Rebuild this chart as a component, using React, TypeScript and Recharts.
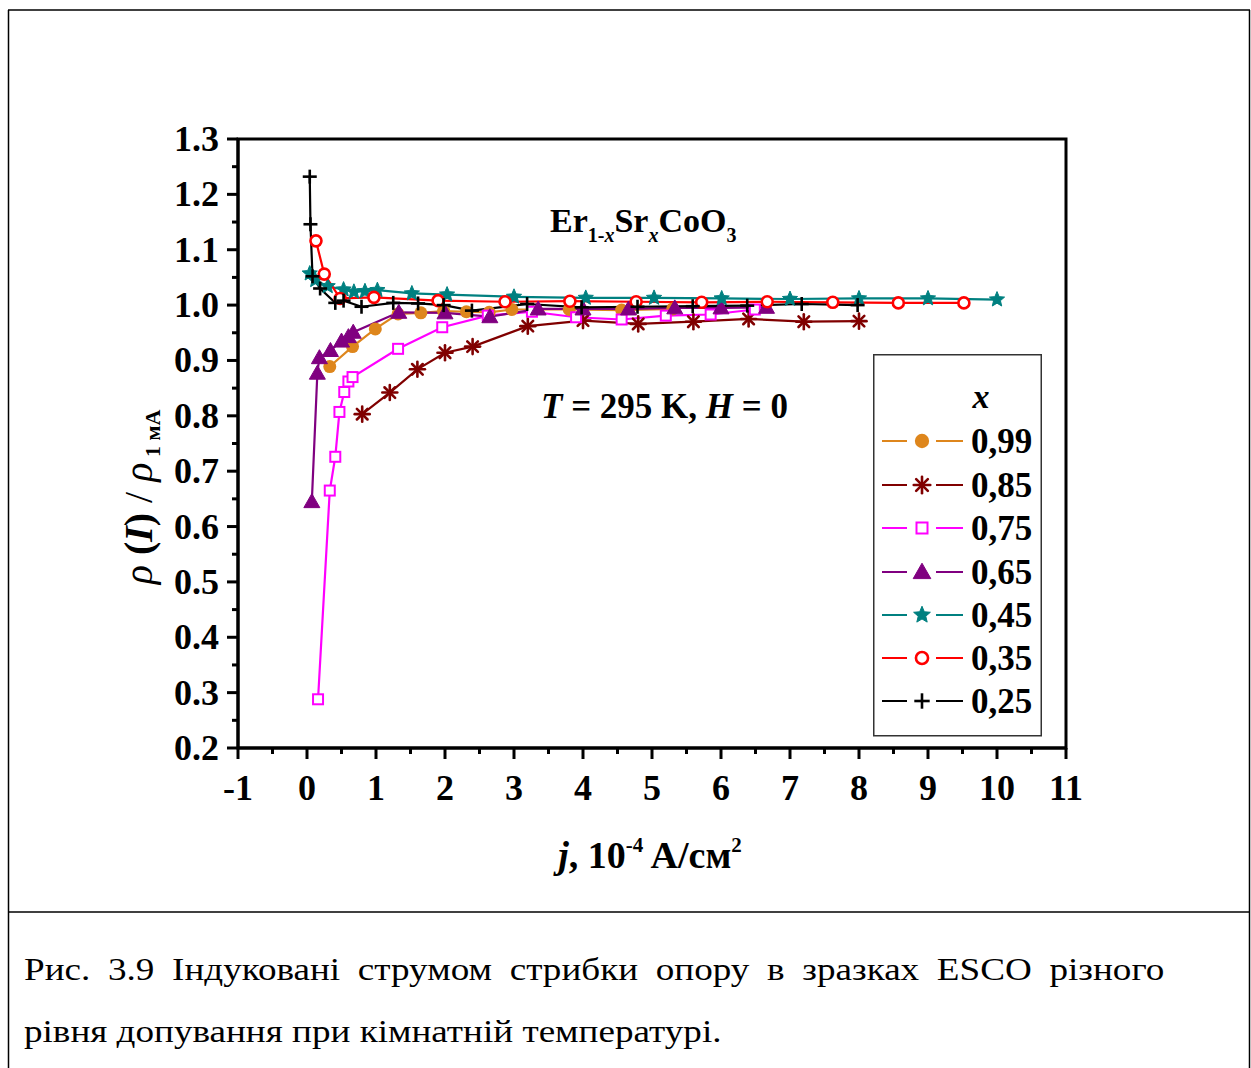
import React from 'react';
import { LineChart, Line, XAxis, YAxis, ReferenceArea, Legend } from 'recharts';

// ---- data (j in 10^-4 A/cm^2, rho(I)/rho_1mA) ----
const s099 = [
  { x: 0.33, y: 0.889 }, { x: 0.66, y: 0.925 }, { x: 0.99, y: 0.957 }, { x: 1.32, y: 0.984 },
  { x: 1.65, y: 0.986 }, { x: 1.98, y: 0.989 }, { x: 2.31, y: 0.988 }, { x: 2.64, y: 0.987 },
  { x: 2.97, y: 0.992 }, { x: 3.8, y: 0.992 }, { x: 4.56, y: 0.991 }, { x: 5.3, y: 0.993 },
];
const s085 = [
  { x: 0.8, y: 0.803 }, { x: 1.2, y: 0.842 }, { x: 1.6, y: 0.884 }, { x: 2.0, y: 0.914 },
  { x: 2.4, y: 0.925 }, { x: 3.2, y: 0.962 }, { x: 4.0, y: 0.972 }, { x: 4.8, y: 0.966 },
  { x: 5.6, y: 0.97 }, { x: 6.4, y: 0.975 }, { x: 7.2, y: 0.97 }, { x: 8.0, y: 0.971 },
];
const s075 = [
  { x: 0.16, y: 0.288 }, { x: 0.33, y: 0.665 }, { x: 0.41, y: 0.726 }, { x: 0.47, y: 0.807 },
  { x: 0.54, y: 0.843 }, { x: 0.6, y: 0.862 }, { x: 0.66, y: 0.87 }, { x: 1.32, y: 0.921 },
  { x: 1.96, y: 0.96 }, { x: 2.62, y: 0.981 }, { x: 3.26, y: 0.988 }, { x: 3.9, y: 0.978 },
  { x: 4.56, y: 0.974 }, { x: 5.2, y: 0.981 }, { x: 5.85, y: 0.983 }, { x: 6.49, y: 0.992 },
];
const s065 = [
  { x: 0.07, y: 0.645 }, { x: 0.15, y: 0.877 }, { x: 0.18, y: 0.905 }, { x: 0.34, y: 0.918 },
  { x: 0.5, y: 0.935 }, { x: 0.6, y: 0.943 }, { x: 0.67, y: 0.951 }, { x: 1.33, y: 0.987 },
  { x: 2.0, y: 0.986 }, { x: 2.65, y: 0.979 }, { x: 3.35, y: 0.993 }, { x: 4.0, y: 0.993 },
  { x: 4.66, y: 0.993 }, { x: 5.33, y: 0.995 }, { x: 6.0, y: 0.995 }, { x: 6.66, y: 0.996 },
];
const s045 = [
  { x: 0.04, y: 1.057 }, { x: 0.12, y: 1.045 }, { x: 0.3, y: 1.034 }, { x: 0.53, y: 1.028 },
  { x: 0.68, y: 1.024 }, { x: 0.84, y: 1.025 }, { x: 1.02, y: 1.027 }, { x: 1.52, y: 1.021 },
  { x: 2.03, y: 1.019 }, { x: 3.0, y: 1.015 }, { x: 4.04, y: 1.013 }, { x: 5.03, y: 1.013 },
  { x: 6.01, y: 1.012 }, { x: 7.0, y: 1.011 }, { x: 8.0, y: 1.012 }, { x: 9.0, y: 1.012 },
  { x: 10.0, y: 1.01 },
];
const s035 = [
  { x: 0.13, y: 1.116 }, { x: 0.25, y: 1.056 }, { x: 0.48, y: 1.012 }, { x: 0.97, y: 1.014 },
  { x: 1.9, y: 1.008 }, { x: 2.87, y: 1.006 }, { x: 3.81, y: 1.007 }, { x: 4.77, y: 1.006 },
  { x: 5.72, y: 1.005 }, { x: 6.67, y: 1.006 }, { x: 7.62, y: 1.005 }, { x: 8.57, y: 1.004 },
  { x: 9.52, y: 1.004 },
];
const s025 = [
  { x: 0.04, y: 1.232 }, { x: 0.05, y: 1.146 }, { x: 0.08, y: 1.052 }, { x: 0.19, y: 1.03 },
  { x: 0.41, y: 1.004 }, { x: 0.53, y: 1.008 }, { x: 0.79, y: 0.997 }, { x: 1.25, y: 1.004 },
  { x: 1.61, y: 1.003 }, { x: 1.98, y: 1.0 }, { x: 2.39, y: 0.99 }, { x: 3.19, y: 1.002 },
  { x: 3.98, y: 0.996 }, { x: 4.79, y: 0.997 }, { x: 5.59, y: 0.998 }, { x: 6.38, y: 0.999 },
  { x: 7.17, y: 1.002 }, { x: 7.98, y: 1.0 },
];

const seriesNames = ['0,99', '0,85', '0,75', '0,65', '0,45', '0,35', '0,25'];
const seriesColors = ['#DE861C', '#800000', '#FF00FF', '#800080', '#008080', '#FF0000', '#000000'];
const seriesShapes = ['circle', 'asterisk', 'square', 'triangle', 'star', 'ring', 'plus'];
const seriesData = [s099, s085, s075, s065, s045, s035, s025];

const xTicks = [-1, -0.5, 0, 0.5, 1, 1.5, 2, 2.5, 3, 3.5, 4, 4.5, 5, 5.5, 6, 6.5, 7, 7.5, 8, 8.5, 9, 9.5, 10, 10.5, 11];
const yTicks = [0.2, 0.25, 0.3, 0.35, 0.4, 0.45, 0.5, 0.55, 0.6, 0.65, 0.7, 0.75, 0.8, 0.85, 0.9, 0.95, 1.0, 1.05, 1.1, 1.15, 1.2, 1.25, 1.3];

const captionLine1 = 'Рис. 3.9 Індуковані струмом стрибки опору в зразках ESCO різного';
const captionLine2 = 'рівня допування при кімнатній температурі.';

const FONT = '"Liberation Serif", "Times New Roman", serif';

function starPoints(cx: number, cy: number, R: number, r: number) {
  const pts: string[] = [];
  for (let i = 0; i < 10; i++) {
    const a = (-90 + i * 36) * Math.PI / 180;
    const rad = i % 2 === 0 ? R : r;
    pts.push(`${cx + rad * Math.cos(a)},${cy + rad * Math.sin(a)}`);
  }
  return pts.join(' ');
}

function Marker({ shape, color, cx, cy, scale = 1 }: any) {
  const s = scale;
  switch (shape) {
    case 'circle':
      return <circle cx={cx} cy={cy} r={6.5 * s} fill={color} />;
    case 'asterisk': {
      const L = 7.5 * s;
      const d = L * Math.SQRT1_2;
      return (
        <g stroke={color} strokeWidth={2.6} strokeLinecap="round">
          <line x1={cx - L} y1={cy} x2={cx + L} y2={cy} />
          <line x1={cx} y1={cy - L} x2={cx} y2={cy + L} />
          <line x1={cx - d} y1={cy - d} x2={cx + d} y2={cy + d} />
          <line x1={cx - d} y1={cy + d} x2={cx + d} y2={cy - d} />
        </g>
      );
    }
    case 'square':
      return <rect x={cx - 5 * s} y={cy - 5 * s} width={10 * s} height={10 * s} fill="#fff" stroke={color} strokeWidth={2} />;
    case 'triangle': {
      const h = 8 * s;
      return <polygon points={`${cx},${cy - h} ${cx + h},${cy + h * 0.75} ${cx - h},${cy + h * 0.75}`} fill={color} stroke={color} strokeWidth={1} strokeLinejoin="round" />;
    }
    case 'star':
      return <polygon points={starPoints(cx, cy, 8 * s, 3.6 * s)} fill={color} stroke={color} strokeWidth={1} strokeLinejoin="round" />;
    case 'ring':
      return <circle cx={cx} cy={cy} r={5.5 * s} fill="#fff" stroke={color} strokeWidth={2.6} />;
    case 'plus': {
      const L = 7 * s;
      return (
        <g stroke={color} strokeWidth={2.6}>
          <line x1={cx - L} y1={cy} x2={cx + L} y2={cy} />
          <line x1={cx} y1={cy - L} x2={cx} y2={cy + L} />
        </g>
      );
    }
    default:
      return null;
  }
}

const makeDot = (shape: string, color: string) => (props: any) => {
  const { cx, cy, index } = props;
  if (cx == null || cy == null) return <g key={`d-${index}`} />;
  return (
    <g key={`d-${shape}-${index}`}>
      <Marker shape={shape} color={color} cx={cx} cy={cy} />
    </g>
  );
};

const XTick = (props: any) => {
  const { x, y, payload } = props;
  const v = payload.value;
  const major = Number.isInteger(v);
  return (
    <g>
      <line x1={x} x2={x} y1={y} y2={y + (major ? 11 : 6)} stroke="#000" strokeWidth={3} />
      {major && (
        <text x={x} y={y + 52} textAnchor="middle" fontFamily={FONT} fontWeight="bold" fontSize={36} fill="#000">
          {v}
        </text>
      )}
    </g>
  );
};

const YTick = (props: any) => {
  const { x, y, payload } = props;
  const v = payload.value;
  const major = Math.round(v * 100) % 10 === 0;
  return (
    <g>
      <line x1={x} x2={x - (major ? 11 : 6)} y1={y} y2={y} stroke="#000" strokeWidth={3} />
      {major && (
        <text x={x - 19} y={y + 12} textAnchor="end" fontFamily={FONT} fontWeight="bold" fontSize={36} fill="#000">
          {v.toFixed(1)}
        </text>
      )}
    </g>
  );
};

const LegendBox = () => {
  const rowY = [87, 131, 174, 218, 261, 304, 347];
  return (
    <svg width={170} height={383} style={{ display: 'block' }}>
      <rect x={0.75} y={0.75} width={167.5} height={381} fill="#fff" stroke="#333" strokeWidth={1.5} />
      <text x={108} y={54} textAnchor="middle" fontFamily={FONT} fontWeight="bold" fontStyle="italic" fontSize={34}>x</text>
      {seriesNames.map((n, i) => (
        <g key={n}>
          <line x1={9} x2={34} y1={rowY[i]} y2={rowY[i]} stroke={seriesColors[i]} strokeWidth={2} />
          <line x1={63} x2={90} y1={rowY[i]} y2={rowY[i]} stroke={seriesColors[i]} strokeWidth={2} />
          <Marker shape={seriesShapes[i]} color={seriesColors[i]} cx={49} cy={rowY[i]} scale={1.1} />
          <text x={98} y={rowY[i] + 12} fontFamily={FONT} fontWeight="bold" fontSize={35} fill="#000">{n}</text>
        </g>
      ))}
    </svg>
  );
};

export default function App() {
  return (
    <div style={{ position: 'absolute', left: 0, top: 0, width: 1251, height: 1068, background: '#fff', overflow: 'hidden' }}>
      <div style={{ position: 'absolute', left: 0, top: 0 }}>
        <LineChart width={1251} height={912} margin={{ top: 139, right: 185, left: 178, bottom: 104 }}>
          <XAxis
            dataKey="x"
            type="number"
            domain={[-1, 11]}
            ticks={xTicks}
            interval={0}
            tickSize={0}
            tickMargin={0}
            height={60}
            tick={<XTick />}
            axisLine={{ stroke: '#000', strokeWidth: 3 }}
            allowDataOverflow
          />
          <YAxis
            dataKey="y"
            type="number"
            domain={[0.2, 1.3]}
            ticks={yTicks}
            interval={0}
            tickSize={0}
            tickMargin={0}
            width={60}
            tick={<YTick />}
            axisLine={{ stroke: '#000', strokeWidth: 3 }}
            allowDataOverflow
          />
          <ReferenceArea x1={-1} x2={11} y1={0.2} y2={1.3} fill="none" stroke="#000" strokeWidth={3} fillOpacity={0} />
          {seriesData.map((d, i) => (
            <Line
              key={seriesNames[i]}
              data={d}
              dataKey="y"
              name={seriesNames[i]}
              stroke={seriesColors[i]}
              strokeWidth={2.2}
              dot={makeDot(seriesShapes[i], seriesColors[i])}
              activeDot={false}
              isAnimationActive={false}
            />
          ))}
          <Legend
            layout="vertical"
            align="center"
            verticalAlign="middle"
            content={<LegendBox />}
            wrapperStyle={{ position: 'absolute', left: 873, top: 354, width: 170, height: 383 }}
          />
        </LineChart>
      </div>
      <svg width={1251} height={1068} style={{ position: 'absolute', left: 0, top: 0, pointerEvents: 'none' }}>
        {/* frame */}
        <line x1={8} x2={1250} y1={10} y2={10} stroke="#000" strokeWidth={1.5} />
        <line x1={8.5} x2={8.5} y1={10} y2={1068} stroke="#000" strokeWidth={1.5} />
        <line x1={1249.5} x2={1249.5} y1={10} y2={1068} stroke="#000" strokeWidth={1.5} />
        <line x1={8} x2={1250} y1={912} y2={912} stroke="#000" strokeWidth={1.5} />
        {/* formula */}
        <text x={550} y={232} fontFamily={FONT} fontWeight="bold" fontSize={34} fill="#000">
          Er<tspan fontSize={20} dy={10}>1-</tspan><tspan fontSize={20} fontStyle="italic">x</tspan>
          <tspan dy={-10}>Sr</tspan><tspan fontSize={20} fontStyle="italic" dy={10}>x</tspan>
          <tspan dy={-10}>CoO</tspan><tspan fontSize={20} dy={10}>3</tspan>
        </text>
        <text x={541} y={418} fontFamily={FONT} fontWeight="bold" fontSize={35} fill="#000">
          <tspan fontStyle="italic">T</tspan> = 295 K, <tspan fontStyle="italic">H</tspan> = 0
        </text>
        {/* x title */}
        <text x={650} y={868} textAnchor="middle" fontFamily={FONT} fontWeight="bold" fontSize={38} fill="#000">
          <tspan fontStyle="italic">j</tspan>, 10<tspan fontSize={21} dy={-16}>-4</tspan>
          <tspan dy={16}> A/см</tspan><tspan fontSize={21} dy={-16}>2</tspan>
        </text>
        {/* y title */}
        <text transform="translate(152,497) rotate(-90)" textAnchor="middle" fontFamily={FONT} fontSize={40} fill="#000">
          <tspan fontStyle="italic">ρ</tspan>
          <tspan fontWeight="bold"> (</tspan><tspan fontWeight="bold" fontStyle="italic">I</tspan><tspan fontWeight="bold">)</tspan>
          <tspan> / </tspan><tspan fontStyle="italic">ρ</tspan>
          <tspan fontSize={22} fontWeight="bold" dy={8}> 1 мА</tspan>
        </text>
      </svg>
      <div style={{ position: 'absolute', left: 24, top: 953, width: 983, fontFamily: FONT, fontSize: 32, lineHeight: '32px', textAlign: 'justify', textAlignLast: 'justify', whiteSpace: 'nowrap', color: '#000', transform: 'scale(1.16, 1)', transformOrigin: '0 0' } as any}>
        {captionLine1}
      </div>
      <div style={{ position: 'absolute', left: 24, top: 1015, fontFamily: FONT, fontSize: 32, lineHeight: '32px', color: '#000', whiteSpace: 'nowrap', transform: 'scale(1.16, 1)', transformOrigin: '0 0' }}>
        {captionLine2}
      </div>
    </div>
  );
}
